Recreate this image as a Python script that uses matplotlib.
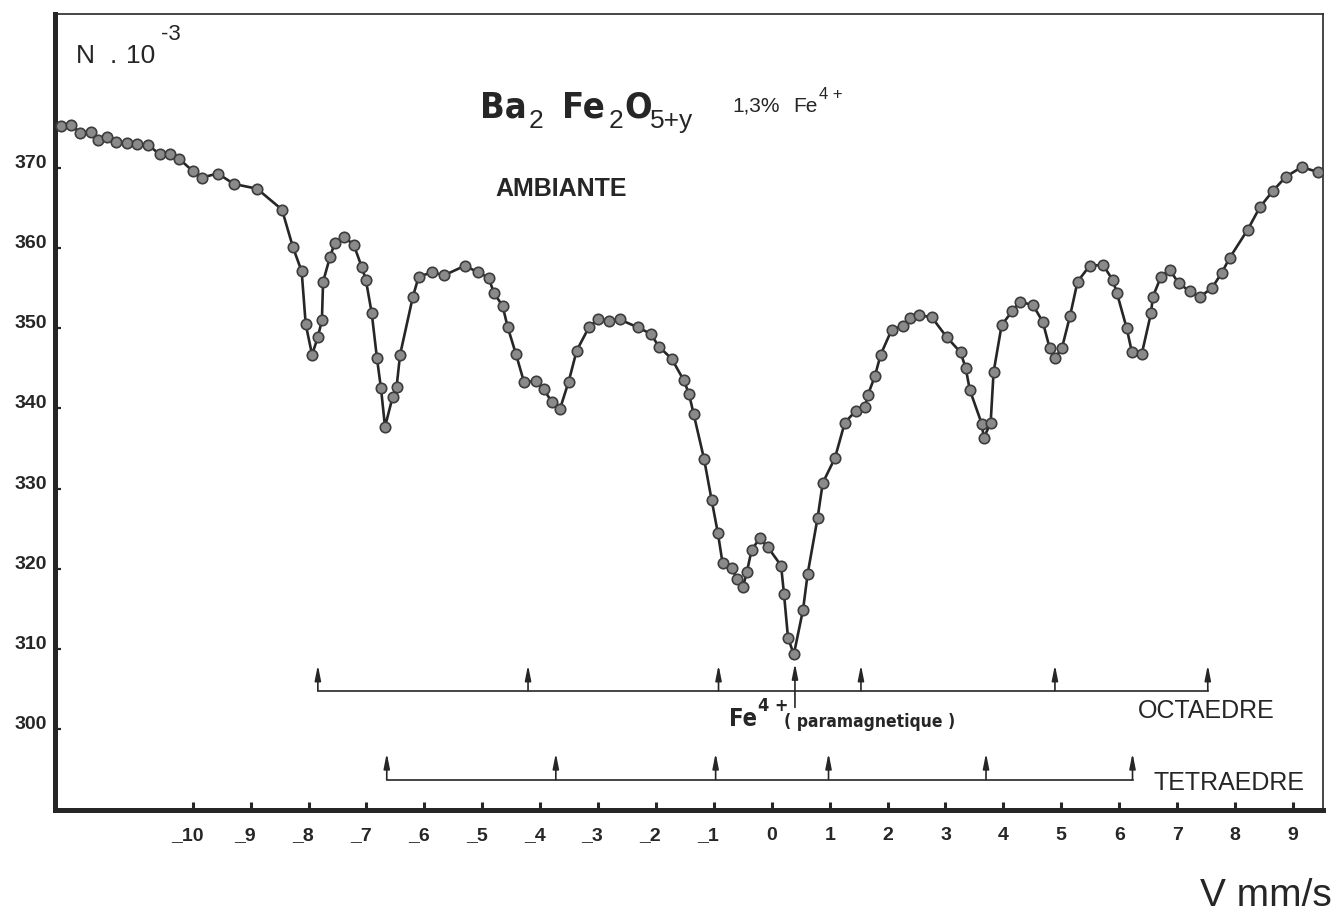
import matplotlib
matplotlib.use('Agg')
import matplotlib.pyplot as plt
from matplotlib import font_manager
from matplotlib.transforms import ScaledTranslation

# Mossbauer spectrum Ba2 Fe2 O5+y, room temperature
velocity = [-12.28, -12.11, -11.95, -11.76, -11.64, -11.49, -11.33, -11.14, -10.97, -10.78,
            -10.57, -10.40, -10.23, -10.00, -9.84, -9.57, -9.29, -8.89, -8.46, -8.27,
            -8.12, -8.05, -7.94, -7.84, -7.77, -7.75, -7.63, -7.55, -7.39, -7.22,
            -7.08, -7.01, -6.91, -6.82, -6.75, -6.68, -6.55, -6.48, -6.42, -6.20,
            -6.10, -5.87, -5.66, -5.30, -5.08, -4.89, -4.80, -4.65, -4.56, -4.42,
            -4.28, -4.08, -3.94, -3.80, -3.66, -3.51, -3.37, -3.16, -3.01, -2.82,
            -2.63, -2.31, -2.09, -1.95, -1.73, -1.52, -1.43, -1.35, -1.17, -1.04,
            -0.93, -0.85, -0.69, -0.60, -0.50, -0.43, -0.35, -0.21, -0.07, 0.16,
            0.21, 0.28, 0.38, 0.54, 0.62, 0.79, 0.88, 1.09, 1.26, 1.45,
            1.61, 1.66, 1.78, 1.88, 2.07, 2.26, 2.38, 2.54, 2.76, 3.02,
            3.26, 3.35, 3.42, 3.63, 3.66, 3.78, 3.83, 3.97, 4.15, 4.28,
            4.51, 4.68, 4.80, 4.89, 5.01, 5.15, 5.28, 5.49, 5.72, 5.89,
            5.96, 6.13, 6.22, 6.39, 6.55, 6.58, 6.72, 6.87, 7.03, 7.22,
            7.39, 7.60, 7.77, 7.91, 8.22, 8.43, 8.65, 8.88, 9.15, 9.43]
counts = [375.2, 375.4, 374.4, 374.5, 373.5, 373.9, 373.2, 373.1, 373.0, 372.9,
          371.7, 371.7, 371.1, 369.6, 368.8, 369.3, 368.0, 367.4, 364.8, 360.1,
          357.1, 350.5, 346.7, 348.9, 351.0, 355.8, 358.9, 360.6, 361.4, 360.4,
          357.6, 356.0, 351.9, 346.3, 342.5, 337.7, 341.4, 342.7, 346.7, 353.9,
          356.4, 357.0, 356.6, 357.8, 357.0, 356.3, 354.4, 352.8, 350.1, 346.8,
          343.3, 343.4, 342.4, 340.8, 339.9, 343.3, 347.2, 350.1, 351.1, 350.9,
          351.1, 350.1, 349.3, 347.7, 346.2, 343.5, 341.8, 339.3, 333.7, 328.6,
          324.4, 320.7, 320.1, 318.7, 317.7, 319.6, 322.3, 323.8, 322.7, 320.4,
          316.9, 311.4, 309.3, 314.9, 319.4, 326.3, 330.7, 333.8, 338.2, 339.7,
          340.2, 341.7, 344.0, 346.7, 349.8, 350.3, 351.3, 351.6, 351.4, 348.9,
          347.0, 345.0, 342.3, 338.0, 336.3, 338.2, 344.5, 350.4, 352.1, 353.3,
          352.9, 350.8, 347.5, 346.3, 347.5, 351.5, 355.8, 357.8, 357.9, 356.0,
          354.4, 350.0, 347.0, 346.8, 351.9, 353.9, 356.4, 357.3, 355.6, 354.6,
          353.9, 355.0, 356.9, 358.8, 362.3, 365.1, 367.1, 368.9, 370.1, 369.5]

# line positions (mm/s)
octa_lines = [-7.84, -4.21, -0.92, 1.54, 4.89, 7.53]
tetra_lines = [-6.65, -3.73, -0.97, 0.98, 3.70, 6.23]
fe4_line = 0.40

x_ticks = list(range(-10, 10))
x_labels = [('_' + str(-v)) if v < 0 else str(v) for v in x_ticks]
y_ticks = [300, 310, 320, 330, 340, 350, 360, 370]

W, H = 1338, 915
SANS = 'Liberation Sans'
# a condensed face if one is installed, else plain sans
narrow = None
for f in font_manager.fontManager.ttflist:
    if f.weight in ('bold', 700) and ('Narrow' in f.name or 'ondensed' in f.fname):
        narrow = f
        break
NARROW = dict(family=narrow.name, stretch=narrow.stretch) if narrow else dict(family=SANS)
ink = '#262626'

fig = plt.figure(figsize=(W / 100, H / 100), dpi=100)
ax = fig.add_axes([55 / W, 1 - 810 / H, (1323 - 55) / W, (810 - 14) / H])

ax.plot(velocity, counts, '-', color=ink, lw=1.9, zorder=2)
ax.plot(velocity, counts, 'o', ms=7.5, mfc='#8a8a8a', mec='#3c3c3c', mew=1.2, zorder=3)

# stick diagrams
arrow = dict(arrowstyle='-|>,head_length=0.9,head_width=0.18', color=ink, lw=1.2,
             shrinkA=0, shrinkB=0)
ax.plot([octa_lines[0], octa_lines[-1]], [304.8, 304.8], color=ink, lw=1.2)
for v in octa_lines:
    ax.annotate('', xy=(v, 308.0), xytext=(v, 304.8), arrowprops=arrow)
ax.annotate('', xy=(fe4_line, 308.2), xytext=(fe4_line, 302.7), arrowprops=arrow)
ax.plot([tetra_lines[0], tetra_lines[-1]], [293.7, 293.7], color=ink, lw=1.2)
for v in tetra_lines:
    ax.annotate('', xy=(v, 297.0), xytext=(v, 293.7), arrowprops=arrow)

ax.set_xlim(-12.38, 9.52)
ax.set_ylim(289.9, 389.2)

for side in ['left', 'bottom']:
    ax.spines[side].set_linewidth(3.6)
    ax.spines[side].set_color(ink)
for side in ['top', 'right']:
    ax.spines[side].set_linewidth(1.2)
    ax.spines[side].set_color(ink)

ax.set_xticks(x_ticks)
ax.set_xticklabels(x_labels, fontfamily=SANS, fontweight='bold', fontsize=14, color=ink)
ax.set_xticks([-10, -5, 0, 5], minor=True)
ax.tick_params(axis='x', which='major', direction='in', length=6, width=2.2, pad=12, colors=ink)
ax.tick_params(axis='x', which='minor', direction='in', length=11, width=2.6, colors=ink)
for lab in ax.get_xticklabels():
    if lab.get_text().startswith('_'):
        lab.set_transform(lab.get_transform() + ScaledTranslation(-4 / 72, 0, fig.dpi_scale_trans))

ax.set_yticks(y_ticks)
ax.set_yticklabels([str(v) for v in y_ticks], fontfamily=SANS, fontweight='bold', fontsize=14,
                   color=ink, va='baseline')
ax.tick_params(axis='y', direction='in', length=4, width=1.6, pad=6, colors=ink)


def txt(px, py, s, size, weight='normal', font=None):
    font = font or dict(family=SANS)
    return fig.text(px / W, 1 - py / H, s, fontsize=size, fontweight=weight, color=ink,
                    va='baseline', ha='left', **font)


big = 26 if narrow else 22
txt(480, 118, 'Ba', big, 'bold', NARROW)
txt(529, 128, '2', 19)
txt(562, 118, 'Fe', big, 'bold', NARROW)
txt(609, 128, '2', 19)
txt(624, 118, 'O', big, 'bold', NARROW)
txt(650, 128, '5+y', 19)
txt(732, 112, '1,3%', 15)
txt(793, 112, 'Fe', 15)
txt(819, 99, '4 +', 12)

txt(76, 63, 'N', 19)
txt(110, 63, '.', 19)
txt(126, 63, '10', 19)
txt(161, 40, '-3', 16)

txt(495, 196, 'AMBIANTE', 18, 'bold')

txt(729, 726, 'Fe', 17, 'bold', NARROW)
txt(758, 711, '4 +', 13, 'bold', NARROW)
txt(784, 727, '( paramagnetique )', 12.5 if narrow else 12, 'bold', NARROW)
txt(1138, 718, 'OCTAEDRE', 18)
txt(1153, 790, 'TETRAEDRE', 18)
txt(1200, 906, 'V mm/s', 28)

fig.savefig('out.png', dpi=100)
